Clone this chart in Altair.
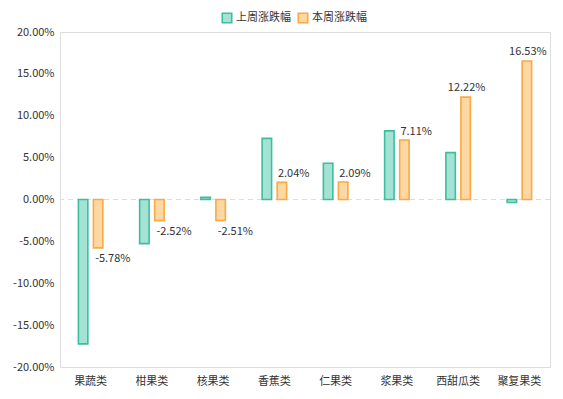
import altair as alt
import pandas as pd

categories = ["果蔬类", "柑果类", "核果类", "香蕉类", "仁果类", "浆果类", "西甜瓜类", "聚复果类"]
last_week = [-17.24, -5.27, 0.25, 7.3, 4.32, 8.2, 5.6, -0.35]
this_week = [-5.78, -2.52, -2.51, 2.04, 2.09, 7.11, 12.22, 16.53]
series_names = ["上周涨跌幅", "本周涨跌幅"]
stroke_colors = ["#3dbf9f", "#f9a945"]
fill_colors = ["#a4e2d3", "#fed8a2"]
y_ticks = [-20, -15, -10, -5, 0, 5, 10, 15, 20]

rows = []
for c, a, b in zip(categories, last_week, this_week):
    rows.append({"cat": c, "series": series_names[0], "v": a, "label": f"{a:.2f}%"})
    rows.append({"cat": c, "series": series_names[1], "v": b, "label": f"{b:.2f}%"})
df = pd.DataFrame(rows)

FONT = "Noto Sans CJK SC"

x_enc = alt.X("cat:N", sort=categories, title=None,
              scale=alt.Scale(paddingInner=0.6, paddingOuter=0.3),
              axis=alt.Axis(domain=False, ticks=False, labelAngle=0, labelPadding=8,
                            labelFontSize=11, labelColor="#333333", labelFont=FONT))
y_enc = alt.Y("v:Q", title=None,
              scale=alt.Scale(domain=[-20, 20], nice=False),
              axis=alt.Axis(values=y_ticks, domain=False, ticks=False, grid=False,
                            labelPadding=6, labelFontSize=11, labelColor="#333333",
                            labelFont=FONT,
                            labelExpr="replace(format(datum.value, '.2f'), '\u2212', '-') + '%'"))
xoff = alt.XOffset("series:N", sort=series_names,
                   scale=alt.Scale(domain=series_names, paddingInner=0.37, paddingOuter=0))

legend = alt.Legend(title=None, orient="none", direction="horizontal",
                    legendX=161, legendY=-20, symbolType="square",
                    symbolSize=90, symbolStrokeWidth=1.6,
                    labelFont=FONT, labelFontSize=11, labelColor="#333333",
                    columnPadding=4, symbolOffset=0, labelOffset=3, padding=0)

bars = alt.Chart(df).mark_bar(strokeWidth=1.6, cornerRadius=0).encode(
    x=x_enc, y=y_enc, xOffset=xoff,
    fill=alt.Fill("series:N", sort=series_names,
                  scale=alt.Scale(domain=series_names, range=fill_colors),
                  legend=legend),
    stroke=alt.Stroke("series:N", sort=series_names,
                      scale=alt.Scale(domain=series_names, range=stroke_colors),
                      legend=legend),
)

zero = alt.Chart(pd.DataFrame({"z": [0]})).mark_rule(
    color="#dddddd", strokeDash=[5, 4], strokeWidth=1).encode(y=alt.Y("z:Q"))

base_text = alt.Chart(df).transform_filter(alt.datum.series == series_names[1])
txt_kw = dict(font=FONT, fontSize=11, color="#333333")
neg_text = base_text.transform_filter(alt.datum.v < 0).mark_text(
    align="left", baseline="middle", dx=-3, dy=11.5, **txt_kw).encode(
    x=alt.X("cat:N", sort=categories), y="v:Q", xOffset=xoff, text="label:N")
pos_text = base_text.transform_filter((alt.datum.v >= 0) & (alt.datum.v < 10)).mark_text(
    align="left", baseline="middle", dx=-4, dy=-8, **txt_kw).encode(
    x=alt.X("cat:N", sort=categories), y="v:Q", xOffset=xoff, text="label:N")
big_text = base_text.transform_filter(alt.datum.v >= 10).mark_text(
    align="center", baseline="middle", dx=1, dy=-9.5, **txt_kw).encode(
    x=alt.X("cat:N", sort=categories), y="v:Q", xOffset=xoff, text="label:N")

chart = alt.layer(zero, bars, neg_text, pos_text, big_text).properties(
    width=490, height=335,
    autosize=alt.AutoSizeParams(type="none"),
    padding={"left": 52, "top": 24, "right": 5, "bottom": 20},
).configure_view(stroke="#dddddd", strokeDash=[5, 4], strokeWidth=1).configure(
    background="white")

chart.save("out.html", embed_options={"renderer": "svg", "actions": False})
